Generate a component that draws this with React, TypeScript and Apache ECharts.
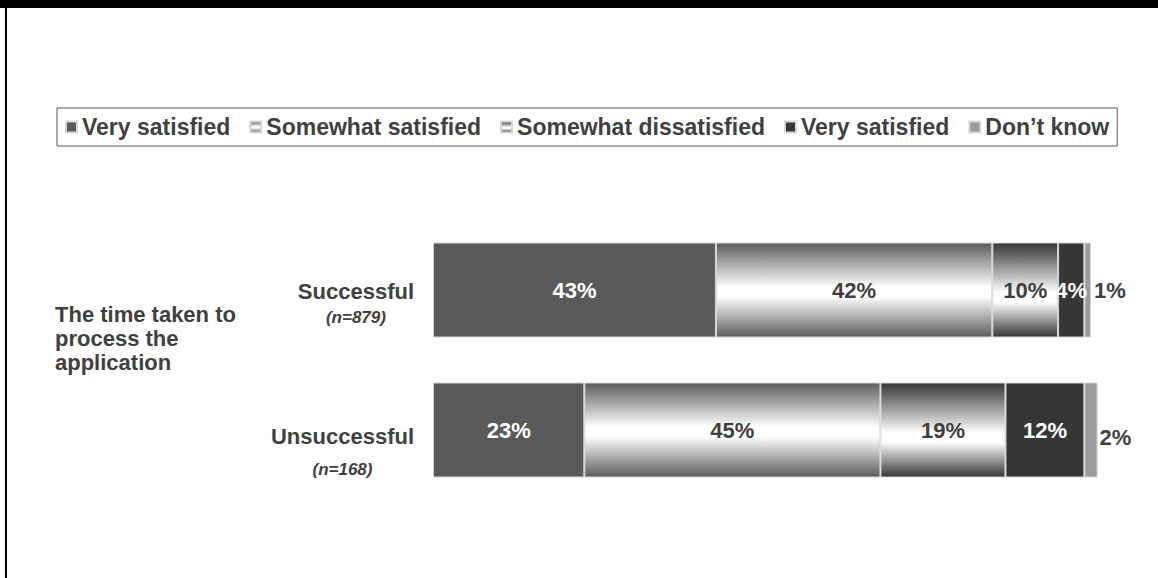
import React, { useEffect, useRef } from "react";
import * as echarts from "echarts";

const categories = ["Successful", "Unsuccessful"];
const sampleSizes = ["(n=879)", "(n=168)"];
const groupLabel = ["The time taken to", "process the", "application"];
const seriesNames = [
  "Very satisfied",
  "Somewhat satisfied",
  "Somewhat dissatisfied",
  "Very satisfied",
  "Don\u2019t know",
];
const verySatisfied = [43, 23];
const somewhatSatisfied = [42, 45];
const somewhatDissatisfied = [10, 19];
const verySatisfiedB = [4, 12];
const dontKnow = [1, 2];

const FONT = "'Liberation Sans', Arial, sans-serif";
const TEXT = "#404040";

export default function App() {
  const ref = useRef<HTMLDivElement>(null);

  useEffect(() => {
    document.body.style.margin = "0";
    if (!ref.current) return;
    const chart = echarts.init(ref.current, undefined, { renderer: "svg" });

    const grad = (edge: string, mid: string, midPos: number) => ({
      type: "linear",
      x: 0,
      y: 0,
      x2: 0,
      y2: 1,
      colorStops: [
        { offset: 0, color: edge },
        { offset: midPos - 0.05, color: mid },
        { offset: midPos + 0.05, color: mid },
        { offset: 1, color: edge },
      ],
    });

    const seriesData = [verySatisfied, somewhatSatisfied, somewhatDissatisfied, verySatisfiedB, dontKnow];
    const colors: any[] = [
      "#5a5a5a",
      grad("#5c5c5c", "#ffffff", 0.52),
      grad("#353535", "#ffffff", 0.58),
      "#363636",
      "#9a9a9a",
    ];
    const labelColors = ["#ffffff", TEXT, TEXT, "#ffffff", TEXT];

    const series = seriesData.map((vals, si) => ({
      type: "bar",
      name: seriesNames[si] + "#" + si,
      stack: "total",
      barWidth: 95,
      clip: false,
      itemStyle: { color: colors[si], borderColor: "#d6d6d6", borderWidth: 1 },
      label: {
        show: true,
        position: si === 4 ? "right" : "inside",
        distance: si === 4 ? 3 : 5,
        formatter: "{c}%",
        color: labelColors[si],
        fontFamily: FONT,
        fontWeight: "bold",
        fontSize: 22,
      },
      data: vals.map((v, i) =>
        si === 4 && i === 1 ? { value: v, label: { offset: [-1, 7] } } : v
      ),
    }));

    chart.setOption({
      animation: false,
      backgroundColor: "#ffffff",
      textStyle: { fontFamily: FONT },
      legend: {
        left: 57,
        top: 108,
        padding: [7, 8, 7, 8],
        itemGap: 19,
        itemWidth: 11,
        itemHeight: 11,
        borderColor: "#595959",
        borderWidth: 1,
        backgroundColor: "#ffffff",
        icon: "rect",
        selectedMode: false,
        formatter: (n: string) => n.split("#")[0],
        textStyle: {
          fontFamily: FONT,
          fontWeight: "bold",
          fontSize: 23,
          color: TEXT,
          lineHeight: 24,
        },
      },
      grid: { left: 433, width: 658, top: 220, height: 280 },
      xAxis: { type: "value", min: 0, max: 100, show: false },
      yAxis: {
        type: "category",
        inverse: true,
        data: categories,
        axisLine: { show: false },
        axisTick: { show: false },
        splitLine: { show: false },
        axisLabel: {
          margin: 19,
          formatter: (v: string, i: number) => `{e${i}| }\n{c|${v}}\n{n${i}|${sampleSizes[i]}}`,
          rich: {
            e0: { lineHeight: 28, fontSize: 1 },
            e1: { lineHeight: 52, fontSize: 1 },
            c: { fontSize: 22, fontWeight: "bold", color: TEXT, lineHeight: 26, align: "center", fontFamily: FONT },
            n0: { fontSize: 17, fontWeight: "bold", fontStyle: "italic", color: TEXT, lineHeight: 26, align: "center", fontFamily: FONT },
            n1: { fontSize: 17, fontWeight: "bold", fontStyle: "italic", color: TEXT, lineHeight: 40, align: "center", fontFamily: FONT },
          },
        },
      },
      graphic: [
        { type: "rect", shape: { x: 0, y: 0, width: 1158, height: 8 }, style: { fill: "#000000" }, silent: true },
        { type: "rect", shape: { x: 5, y: 0, width: 2, height: 578 }, style: { fill: "#000000" }, silent: true },
        {
          type: "text",
          left: 55,
          top: 302,
          style: {
            text: groupLabel.join("\n"),
            fontFamily: FONT,
            fontWeight: "bold",
            fontSize: 22,
            lineHeight: 24,
            fill: TEXT,
          },
        },
      ],
      series,
    });

    return () => chart.dispose();
  }, []);

  return <div ref={ref} style={{ width: 1158, height: 578 }} />;
}
